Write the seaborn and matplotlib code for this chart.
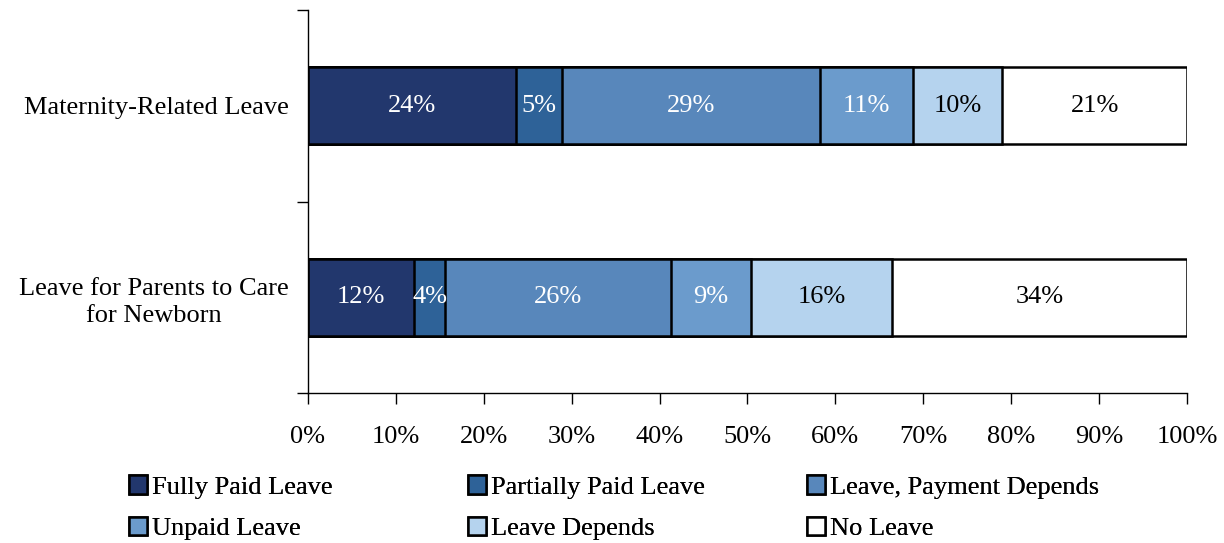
import numpy as np
import pandas as pd
import seaborn as sns
import matplotlib.pyplot as plt
from matplotlib.patches import Patch
from matplotlib.ticker import PercentFormatter

# data (segment widths in %)
categories = ['Maternity-Related Leave', 'Leave for Parents to Care\nfor Newborn']
leave_types = ['Fully Paid Leave', 'Partially Paid Leave', 'Leave, Payment Depends',
               'Unpaid Leave', 'Leave Depends', 'No Leave']
maternity = [23.7, 5.2, 29.3, 10.6, 10.2, 21.0]
newborn = [12.1, 3.5, 25.7, 9.1, 16.0, 33.6]
maternity_labels = ['24%', '5%', '29%', '11%', '10%', '21%']
newborn_labels = ['12%', '4%', '26%', '9%', '16%', '34%']

colors = ['#22376d', '#2e6298', '#5887bb', '#6b9bcc', '#b5d3ee', '#ffffff']
text_colors = ['white', 'white', 'white', 'white', 'black', 'black']

# long format with cumulative ends
rows = []
for cat, vals, labs in [(categories[0], maternity, maternity_labels),
                        (categories[1], newborn, newborn_labels)]:
    cum = np.cumsum(vals)
    for t, v, c, l in zip(leave_types, vals, cum, labs):
        rows.append({'category': cat, 'type': t, 'value': v,
                     'end': c, 'start': c - v, 'label': l})
df = pd.DataFrame(rows)

sns.set_style('white')
plt.rcParams['font.family'] = ['Liberation Serif', 'DejaVu Serif']
plt.rcParams['text.color'] = 'black'
plt.rcParams['xtick.color'] = 'black'
plt.rcParams['ytick.color'] = 'black'

FS = 19

fig = plt.figure(figsize=(12.24, 5.43), dpi=100)
ax = fig.add_axes([0.2516, 0.2762, 0.9698 - 0.2516, 0.9816 - 0.2762])

# stacked bars: draw cumulative totals from the widest down
for t, col in reversed(list(zip(leave_types, colors))):
    sub = df[df['type'] == t]
    sns.barplot(data=sub, x='end', y='category', order=categories, color=col,
                saturation=1, edgecolor='black', linewidth=1.8, width=0.4,
                errorbar=None, ax=ax)

# segment labels
for i, cat in enumerate(categories):
    sub = df[df['category'] == cat]
    for (_, r), tc in zip(sub.iterrows(), text_colors):
        ax.text(r['start'] + r['value'] / 2, i, r['label'], ha='center',
                va='center', color=tc, fontsize=FS)

ax.set_xlim(0, 100)
ax.set_ylim(1.5, -0.5)
ax.set_xticks(np.arange(0, 101, 10))
ax.xaxis.set_major_formatter(PercentFormatter(decimals=0))

ax.set_yticks([-0.5, 0.5, 1.5])
ax.set_yticklabels([])
ax.set_yticks([0, 1], minor=True)
ax.set_yticklabels(categories, minor=True, multialignment='center',
                   linespacing=1.3)

ax.tick_params(axis='x', which='major', bottom=True, direction='out',
               length=8, width=1, labelsize=FS, pad=15.5)
ax.tick_params(axis='y', which='major', left=True, direction='out',
               length=8, width=1)
ax.tick_params(axis='y', which='minor', left=True, length=0,
               labelsize=FS, pad=14)
ax.set_xlabel('')
ax.set_ylabel('')

sns.despine(ax=ax)
for s in ['left', 'bottom']:
    ax.spines[s].set_color('black')
    ax.spines[s].set_linewidth(1)

# legend: one column per legend so each sits where the original has it
legend_cols = [[0, 3], [1, 4], [2, 5]]
legend_x = [0.0964, 0.3734, 0.6503]
for idx, lx in zip(legend_cols, legend_x):
    handles = [Patch(facecolor=colors[k], edgecolor='black', linewidth=1.8,
                     label=leave_types[k]) for k in idx]
    fig.add_artist(fig.legend(handles=handles, loc='upper left',
                              bbox_to_anchor=(lx, 0.144), ncol=1,
                              frameon=False, fontsize=FS, handlelength=0.7,
                              handleheight=0.7, handletextpad=0.2,
                              labelspacing=0.68, borderaxespad=0))

fig.savefig('out.png', dpi=100, facecolor='white')
